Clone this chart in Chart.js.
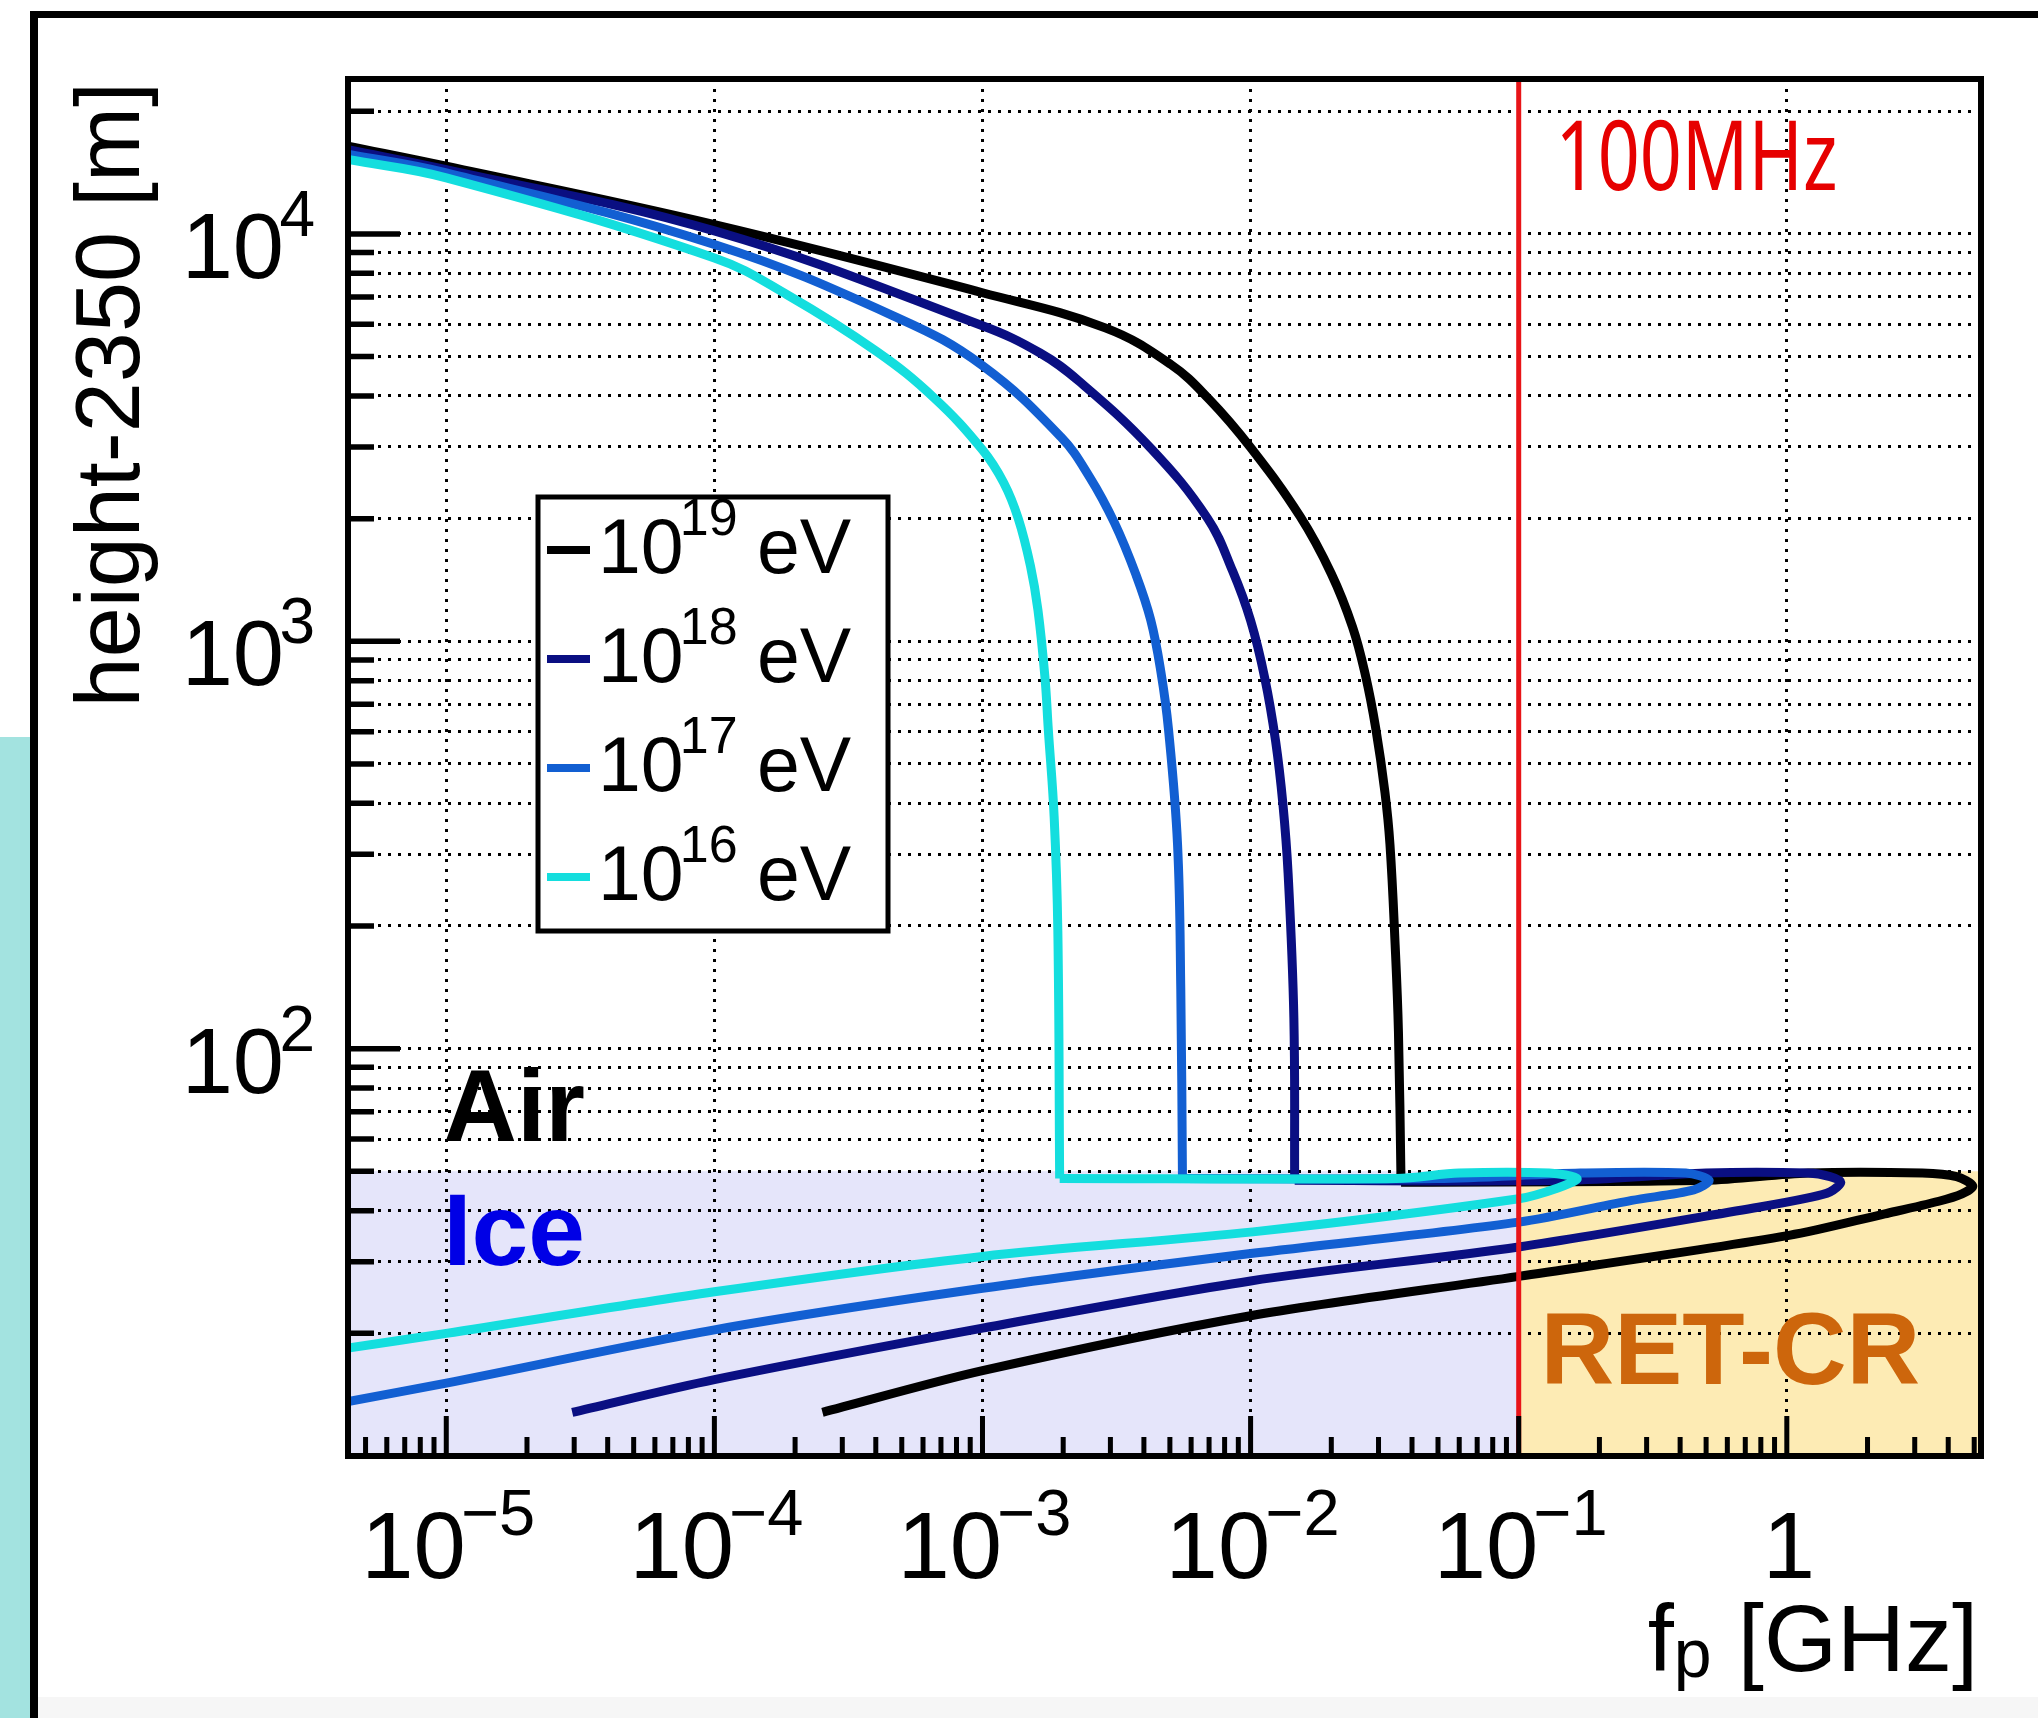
<!DOCTYPE html>
<html>
<head>
<meta charset="utf-8">
<script src="https://cdn.jsdelivr.net/npm/chart.js@4.4.1/dist/chart.umd.min.js"></script>
<style>
  html, body { margin: 0; padding: 0; background: #fff; }
  body { width: 2038px; height: 1718px; position: relative; overflow: hidden; }
  .deco { position: absolute; }
  #chart { position: absolute; left: 0; top: 0; }
</style>
</head>
<body>
<div class="deco" style="left:0;top:737px;width:30px;height:981px;background:#a3e3e0"></div>
<div class="deco" style="left:38px;top:1697px;width:2000px;height:21px;background:#f6f6f6"></div>
<div class="deco" style="left:30px;top:11px;width:8px;height:1707px;background:#000"></div>
<div class="deco" style="left:30px;top:11px;width:2008px;height:7px;background:#000"></div>
<canvas id="chart" width="2038" height="1718"></canvas>
<script>
// f_p [GHz] vs height-2350 [m]
const energyLabels = ['19', '18', '17', '16'];
const lineColors = ['#000000', '#0a0f82', '#125fd2', '#14dede'];

// air part: from the top of the plot down to the ice surface
const freq19Air = [4.3e-6, 1e-5, 1e-4, 1e-3, 2.87e-3, 5.02e-3, 7.01e-3, 1e-2, 1.53e-2, 2.0e-2, 2.4e-2, 2.68e-2, 2.93e-2, 3.17e-2, 3.31e-2, 3.46e-2, 3.56e-2, 3.64e-2];
const height19Air = [16430, 14660, 10540, 7170, 5880, 4790, 3925, 2990, 2025, 1465, 1084, 826, 611, 426, 317, 180, 110, 47];
// ice part: along the surface, round the nose, back down
const freq19Ice = [3.64e-2, 0.5, 1.2, 3.2, 4.3, 4.94, 4.5, 3.69, 2.32, 1.02, 0.1, 1e-2, 1e-3, 2.53e-4];
const height19Ice = [47, 47.5, 49.5, 49.5, 48.5, 46, 44, 42.2, 39.3, 34.8, 27.6, 22.1, 16.2, 12.8];

const freq18Air = [4.3e-6, 1e-5, 1e-4, 1e-3, 1.64e-3, 2.29e-3, 4.24e-3, 6.92e-3, 8.57e-3, 1e-2, 1.13e-2, 1.24e-2, 1.32e-2, 1.38e-2, 1.45e-2, 1.46e-2];
const height18Air = [16100, 14380, 10170, 5950, 5100, 4350, 2980, 2000, 1487, 1124, 811, 568, 398, 269, 119, 47.5];
const freq18Ice = [1.46e-2, 0.15, 0.5, 1.2, 1.45, 1.59, 1.45, 1.2, 0.783, 0.1, 1e-2, 1e-3, 1e-4, 2.95e-5];
const height18Ice = [47.5, 47.5, 49.5, 49.5, 48.5, 47, 44.5, 43, 40.8, 32.6, 26.9, 20.6, 15.4, 12.8];

const freq17Air = [4.3e-6, 1e-5, 1e-4, 4.94e-4, 1e-3, 1.96e-3, 2.51e-3, 3.11e-3, 3.74e-3, 4.24e-3, 4.63e-3, 4.94e-3, 5.34e-3, 5.49e-3, 5.57e-3];
const height17Air = [15700, 14120, 9420, 6180, 4750, 3175, 2530, 1950, 1454, 1128, 840, 608, 317, 140, 48];
const freq17Ice = [5.57e-3, 0.05, 0.17, 0.42, 0.513, 0.45, 0.264, 0.1, 1e-2, 1e-3, 1e-4, 1e-5, 4.3e-6];
const height17Ice = [48, 48, 49.5, 49.5, 47.5, 45, 42.4, 37.5, 31.4, 25.8, 20.4, 15.1, 13.6];

const freq16Air = [4.3e-6, 1e-5, 1e-4, 1.86e-4, 4.02e-4, 6.62e-4, 1e-3, 1.2e-3, 1.36e-3, 1.51e-3, 1.61e-3, 1.71e-3, 1.76e-3, 1.85e-3, 1.91e-3, 1.94e-3];
const height16Air = [15230, 13730, 8730, 7100, 5150, 3950, 2950, 2450, 2000, 1530, 1193, 815, 607, 372, 195, 48];
const freq16Ice = [1.94e-3, 0.035, 0.06, 0.13, 0.165, 0.14, 0.1, 1.02e-2, 1e-3, 1e-4, 1e-5, 4.3e-6];
const height16Ice = [48, 48, 49.5, 49.5, 48, 45.5, 42.8, 35.5, 30.9, 25.3, 20.0, 18.4];

// axes
const X_MIN = 4.3e-6, X_MAX = 5.3, Y_MIN = 10, Y_MAX = 24000;
const xMajorTicks = [1e-5, 1e-4, 1e-3, 1e-2, 1e-1, 1];
const xTickBase = ['10', '10', '10', '10', '10', '1'];
const xTickExp = ['\u22125', '\u22124', '\u22123', '\u22122', '\u22121', ''];
const yMajorTicks = [100, 1000, 10000];
const yTickBase = ['10', '10', '10'];
const yTickExp = ['2', '3', '4'];

const ICE_SURFACE = 50;     // m
const CUTOFF_FREQ = 0.1;    // GHz, 100 MHz line

const minorTicks = (lo, hi) => {
    const out = [];
    for (let d = Math.floor(Math.log10(lo)); d <= Math.ceil(Math.log10(hi)); d++) {
        for (let k = 2; k <= 9; k++) {
            const v = k * Math.pow(10, d);
            if (v > lo && v < hi) out.push(v);
        }
    }
    return out;
};
const xMinorTicks = minorTicks(X_MIN, X_MAX);
const yMinorTicks = minorTicks(Y_MIN, Y_MAX);
const yGridTicks = yMajorTicks.concat(yMinorTicks).sort((a, b) => a - b);

const FONT = '"Liberation Sans", Arial, Helvetica, sans-serif';
const font = (size, bold) => `${bold ? 'bold ' : ''}${size}px ${FONT}`;

const toPoints = (fs, hs) => fs.map((f, i) => ({ x: f, y: hs[i] }));
const series = [
    [freq19Air, height19Air, freq19Ice, height19Ice],
    [freq18Air, height18Air, freq18Ice, height18Ice],
    [freq17Air, height17Air, freq17Ice, height17Ice],
    [freq16Air, height16Air, freq16Ice, height16Ice]
];

const CURVE_WIDTH = 9;
const curveSets = [];
series.forEach((s, i) => {
    const common = {
        label: '10^' + energyLabels[i] + ' eV',
        borderColor: lineColors[i],
        borderWidth: CURVE_WIDTH,
        pointRadius: 0,
        fill: false,
        borderJoinStyle: 'round',
        borderCapStyle: 'butt',
        order: 4 - i
    };
    curveSets.push(Object.assign({}, common, { data: toPoints(s[0], s[1]), tension: 0.4 }));
    curveSets.push(Object.assign({}, common, { data: toPoints(s[2], s[3]), tension: 0.3 }));
});

const redLine = {
    label: '100MHz',
    data: [{ x: CUTOFF_FREQ, y: Y_MIN }, { x: CUTOFF_FREQ, y: Y_MAX }],
    borderColor: '#e81418',
    borderWidth: 5,
    pointRadius: 0,
    fill: false,
    order: 0
};

// superscript label helper (10^n)
function drawPow(ctx, base, exp, x, baseline, align, baseSize, expSize, raise) {
    ctx.font = font(baseSize);
    const wb = ctx.measureText(base).width;
    ctx.font = font(expSize);
    const we = exp ? ctx.measureText(exp).width : 0;
    const gap = exp ? -0.05 * baseSize : 0;
    const total = wb + gap + we;
    let start = x;
    if (align === 'center') start = x - total / 2;
    if (align === 'right') start = x - total;
    ctx.textAlign = 'left';
    ctx.font = font(baseSize);
    ctx.fillText(base, start, baseline);
    if (exp) {
        ctx.font = font(expSize);
        ctx.fillText(exp, start + wb + gap, baseline - raise);
    }
    return start + total;
}

const decor = {
    id: 'decor',
    beforeDraw(chart) {
        const { ctx, chartArea: a, scales: { x, y } } = chart;
        const xc = x.getPixelForValue(CUTOFF_FREQ);
        const ys = y.getPixelForValue(ICE_SURFACE);
        ctx.save();
        ctx.fillStyle = '#e5e5fa';
        ctx.fillRect(a.left, ys, xc - a.left, a.bottom - ys);
        ctx.fillStyle = '#fdebb4';
        ctx.fillRect(xc, ys, a.right - xc, a.bottom - ys);
        ctx.restore();
    },
    afterDraw(chart) {
        const { ctx, chartArea: a, scales: { x, y } } = chart;
        ctx.save();
        ctx.fillStyle = '#000';
        ctx.strokeStyle = '#000';

        // inward ticks
        ctx.lineWidth = 5.5;
        ctx.beginPath();
        yMajorTicks.forEach(v => { const p = y.getPixelForValue(v); ctx.moveTo(a.left, p); ctx.lineTo(a.left + 52, p); });
        yMinorTicks.forEach(v => { const p = y.getPixelForValue(v); ctx.moveTo(a.left, p); ctx.lineTo(a.left + 26, p); });
        ctx.stroke();
        ctx.lineWidth = 5;
        ctx.beginPath();
        xMajorTicks.forEach(v => { const p = x.getPixelForValue(v); ctx.moveTo(p, a.bottom); ctx.lineTo(p, a.bottom - 40); });
        xMinorTicks.forEach(v => { const p = x.getPixelForValue(v); ctx.moveTo(p, a.bottom); ctx.lineTo(p, a.bottom - 19); });
        ctx.stroke();

        // frame
        ctx.lineWidth = 6;
        ctx.strokeRect(a.left, a.top, a.right - a.left, a.bottom - a.top);

        // tick labels
        ctx.textBaseline = 'alphabetic';
        xMajorTicks.forEach((v, i) => {
            drawPow(ctx, xTickBase[i], xTickExp[i], x.getPixelForValue(v) + 2, a.bottom + 122, 'center', 94, 65, 43);
        });
        yMajorTicks.forEach((v, i) => {
            drawPow(ctx, yTickBase[i], yTickExp[i], a.left - 33, y.getPixelForValue(v) + 44, 'right', 92, 64, 42);
        });

        // axis titles
        ctx.save();
        ctx.translate(139, a.top + 3);
        ctx.rotate(-Math.PI / 2);
        ctx.textAlign = 'right';
        ctx.font = font(90);
        ctx.fillText('height-2350 [m]', 0, 0);
        ctx.restore();

        ctx.textAlign = 'left';
        ctx.font = font(94);
        const tail = ' [GHz]';
        const wTail = ctx.measureText(tail).width;
        const wF = ctx.measureText('f').width;
        ctx.font = font(68);
        const wP = ctx.measureText('p').width;
        const xEnd = a.right - 3;
        const xStart = xEnd - wTail - wP - wF;
        ctx.font = font(94);
        ctx.fillText('f', xStart, 1671);
        ctx.fillText(tail, xStart + wF + wP, 1671);
        ctx.font = font(68);
        ctx.fillText('p', xStart + wF, 1677);

        // legend
        const lx = 538, ly = 497, lw = 350, lh = 434;
        ctx.fillStyle = '#fff';
        ctx.fillRect(lx, ly, lw, lh);
        ctx.lineWidth = 5;
        ctx.strokeStyle = '#000';
        ctx.strokeRect(lx, ly, lw, lh);
        energyLabels.forEach((e, i) => {
            const cy = 550 + i * 109;
            ctx.strokeStyle = lineColors[i];
            ctx.lineWidth = 8;
            ctx.beginPath();
            ctx.moveTo(547, cy);
            ctx.lineTo(590, cy);
            ctx.stroke();
            ctx.fillStyle = '#000';
            drawPow(ctx, '10', e, 598, cy + 23, 'left', 77, 52, 38);
            ctx.font = font(77);
            ctx.fillText('eV', 757, cy + 23);
        });

        // region labels
        ctx.font = font(102, true);
        ctx.fillStyle = '#000';
        ctx.fillText('Air', x.getPixelForValue(1e-5) - 3, y.getPixelForValue(59.4));
        ctx.fillStyle = '#0000e6';
        ctx.fillText('Ice', x.getPixelForValue(1e-5) - 3, y.getPixelForValue(29.4));
        ctx.fillStyle = '#cd660c';
        ctx.fillText('RET-CR', x.getPixelForValue(0.127) - 6, y.getPixelForValue(15.0));

        // 100MHz note (narrow sans)
        ctx.font = '96px "Noto Sans", "Open Sans", sans-serif';
        ctx.fillStyle = '#e60000';
        const note = '100MHz';
        const sx = 282 / ctx.measureText(note).width;
        ctx.save();
        ctx.translate(x.getPixelForValue(0.147) - 8, y.getPixelForValue(12830));
        ctx.scale(sx, 1);
        ctx.fillText(note, 0, 0);
        ctx.restore();

        ctx.restore();
    }
};

new Chart(document.getElementById('chart'), {
    type: 'line',
    data: { datasets: [redLine].concat(curveSets) },
    options: {
        responsive: false,
        animation: false,
        events: [],
        layout: { padding: { left: 348, top: 79, right: 2038 - 1981, bottom: 1718 - 1456 } },
        elements: { line: { borderWidth: CURVE_WIDTH } },
        plugins: { legend: { display: false }, tooltip: { enabled: false } },
        scales: {
            x: {
                type: 'logarithmic',
                min: X_MIN,
                max: X_MAX,
                afterBuildTicks: s => { s.ticks = xMajorTicks.map(v => ({ value: v })); },
                ticks: { display: false },
                grid: { color: '#000', lineWidth: 3, drawTicks: false },
                border: { display: false, dash: [3, 7] }
            },
            y: {
                type: 'logarithmic',
                min: Y_MIN,
                max: Y_MAX,
                afterBuildTicks: s => { s.ticks = yGridTicks.map(v => ({ value: v })); },
                ticks: { display: false },
                grid: { color: '#000', lineWidth: 3, drawTicks: false },
                border: { display: false, dash: [3, 7] }
            }
        }
    },
    plugins: [decor]
});
</script>
</body>
</html>
